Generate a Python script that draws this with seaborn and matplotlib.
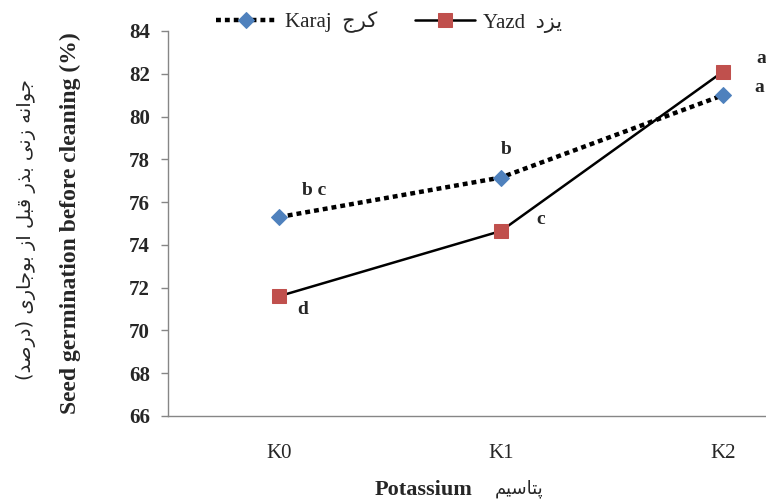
import numpy as np
import pandas as pd
import matplotlib
matplotlib.use('Agg')
import matplotlib.pyplot as plt
import seaborn as sns

# data
levels = ['K0', 'K1', 'K2']
karaj = [75.3, 77.15, 81.0]
yazd = [71.6, 74.65, 82.1]
karaj_letters = ['b c', 'b', 'a']
yazd_letters = ['d', 'c', 'a']
y_ticks = list(range(66, 85, 2))

# letter offsets from each point, in pixels (layout only)
karaj_offsets = [(35, 27), (5, 28), (36, 8)]
yazd_offsets = [(24, -13), (40, 11), (38, 13)]

# Persian letters -> (isolated, final, initial, medial) presentation forms
FORMS = {
    'ا': ('\uFE8D', '\uFE8E', None, None),
    'ب': ('\uFE8F', '\uFE90', '\uFE91', '\uFE92'),
    'پ': ('\uFB56', '\uFB57', '\uFB58', '\uFB59'),
    'ت': ('\uFE95', '\uFE96', '\uFE97', '\uFE98'),
    'ج': ('\uFE9D', '\uFE9E', '\uFE9F', '\uFEA0'),
    'د': ('\uFEA9', '\uFEAA', None, None),
    'ذ': ('\uFEAB', '\uFEAC', None, None),
    'ر': ('\uFEAD', '\uFEAE', None, None),
    'ز': ('\uFEAF', '\uFEB0', None, None),
    'س': ('\uFEB1', '\uFEB2', '\uFEB3', '\uFEB4'),
    'ص': ('\uFEB9', '\uFEBA', '\uFEBB', '\uFEBC'),
    'ق': ('\uFED5', '\uFED6', '\uFED7', '\uFED8'),
    'ک': ('\uFB8E', '\uFB8F', '\uFB90', '\uFB91'),
    'ل': ('\uFEDD', '\uFEDE', '\uFEDF', '\uFEE0'),
    'م': ('\uFEE1', '\uFEE2', '\uFEE3', '\uFEE4'),
    'ن': ('\uFEE5', '\uFEE6', '\uFEE7', '\uFEE8'),
    'ه': ('\uFEE9', '\uFEEA', '\uFEEB', '\uFEEC'),
    'و': ('\uFEED', '\uFEEE', None, None),
    'ی': ('\uFBFC', '\uFBFD', '\uFBFE', '\uFBFF'),
}


def farsi(s):
    # shape letters and put them in visual (left-to-right) order
    out = []
    for i, c in enumerate(s):
        if c not in FORMS:
            out.append(c)
            continue
        iso, fin, ini, med = FORMS[c]
        prev = s[i - 1] if i > 0 else ''
        nxt = s[i + 1] if i + 1 < len(s) else ''
        join_prev = prev in FORMS and FORMS[prev][2] is not None
        join_next = ini is not None and nxt in FORMS
        if join_prev and join_next:
            out.append(med)
        elif join_prev:
            out.append(fin)
        elif join_next:
            out.append(ini)
        else:
            out.append(iso)
    mirror = {'(': ')', ')': '('}
    return ''.join(mirror.get(c, c) for c in reversed(out))


sns.set_theme(style='white')
fonts = ['Liberation Serif', 'DejaVu Sans']
plt.rcParams['font.family'] = fonts

df = pd.DataFrame({
    'Potassium': levels * 2,
    'Germination': karaj + yazd,
    'Site': ['Karaj'] * len(karaj) + ['Yazd'] * len(yazd),
})

fig = plt.figure(figsize=(7.66, 5.01), dpi=100)
ax = fig.add_axes([168 / 766, 85 / 501, 666 / 766, 385 / 501])

sns.lineplot(data=df[df.Site == 'Karaj'], x='Potassium', y='Germination',
             color='black', lw=3.2, linestyle=(0, (1.1, 0.9)),
             marker='D', ms=8, mfc='#4F81BD', mec='#4F81BD',
             label='Karaj  ' + farsi('کرج'), ax=ax)
sns.lineplot(data=df[df.Site == 'Yazd'], x='Potassium', y='Germination',
             color='black', lw=1.8, marker='s', ms=10,
             mfc='#C0504D', mec='#C0504D',
             label='Yazd  ' + farsi('یزد'), ax=ax)

# significance letters
for i, (lab, off) in enumerate(zip(karaj_letters, karaj_offsets)):
    ax.annotate(lab, (i, karaj[i]), xytext=off, textcoords='offset pixels',
                ha='center', va='center', fontsize=14, fontweight='bold')
for i, (lab, off) in enumerate(zip(yazd_letters, yazd_offsets)):
    ax.annotate(lab, (i, yazd[i]), xytext=off, textcoords='offset pixels',
                ha='center', va='center', fontsize=14, fontweight='bold')

ax.set_xlim(-0.5, 2.5)
ax.set_ylim(66, 84)
ax.set_yticks(y_ticks)
ax.set_yticklabels([str(t) for t in y_ticks], fontsize=15, fontweight='bold')
ax.set_xticks(range(len(levels)))
ax.set_xticklabels(levels, fontsize=15)
ax.set_xticks([-0.5, 0.5, 1.5], minor=True)
ax.tick_params(axis='x', which='major', length=0, pad=20)
ax.tick_params(axis='x', which='minor', length=5, direction='out',
               color='#868686', width=1)
ax.tick_params(axis='y', length=5, direction='out', color='#868686',
               width=1, pad=8, left=True)

for side in ['top', 'right']:
    ax.spines[side].set_visible(False)
for side in ['left', 'bottom']:
    ax.spines[side].set_color('#868686')
    ax.spines[side].set_linewidth(1)

ax.set_ylabel('Seed germination before cleaning (%)', fontsize=17,
              fontweight='bold')
ax.yaxis.set_label_coords(-0.13, 0.5)
ax.set_xlabel('Potassium', fontsize=16, fontweight='bold')
ax.xaxis.set_label_coords(0.384, -0.165)

fig.text(26 / 766, 1 - 230 / 501, farsi('جوانه زنی بذر قبل از بوجاری (درصد)'),
         rotation=90, ha='center', va='center', fontsize=14,
         family=['DejaVu Sans'])
fig.text(519 / 766, 1 - 489 / 501, farsi('پتاسیم'), ha='center',
         va='center', fontsize=13, family=['DejaVu Sans'])

ax.legend(loc='center', bbox_to_anchor=(0.508, 0.955),
          bbox_transform=fig.transFigure, ncol=2, frameon=False,
          fontsize=15, handlelength=2.9, columnspacing=1.8,
          handletextpad=0.4)

fig.savefig('out.png', dpi=100)
